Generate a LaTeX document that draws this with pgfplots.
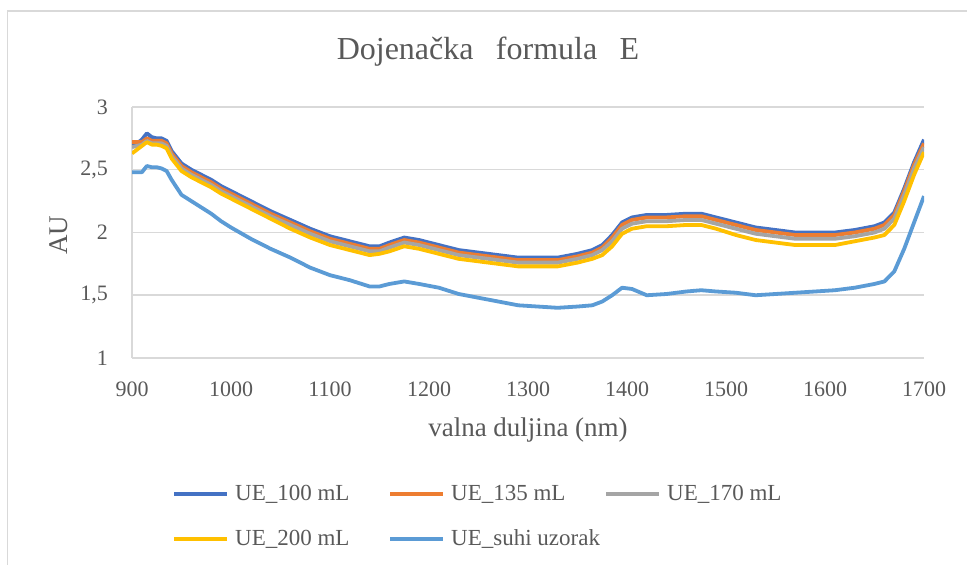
\documentclass[border=0pt]{standalone}
\usepackage{fontspec}
\setmainfont{Liberation Serif}
\usepackage{pgfplots}
\usepackage{pgfplotstable}
\pgfplotsset{compat=1.18}
\definecolor{cA}{HTML}{4472C4}
\definecolor{cB}{HTML}{ED7D31}
\definecolor{cC}{HTML}{A5A5A5}
\definecolor{cD}{HTML}{FFC000}
\definecolor{cE}{HTML}{5B9BD5}
\definecolor{txt}{HTML}{595959}
\definecolor{gridc}{HTML}{D9D9D9}
\pgfplotstableread{
x    a    b    c    d    e
900  2.70 2.72 2.68 2.63 2.48
905  2.71 2.72 2.69 2.66 2.48
910  2.74 2.72 2.70 2.69 2.48
915  2.79 2.75 2.73 2.72 2.53
920  2.76 2.73 2.71 2.70 2.52
925  2.75 2.73 2.71 2.70 2.52
930  2.75 2.73 2.71 2.69 2.51
935  2.73 2.71 2.69 2.67 2.49
940  2.65 2.63 2.61 2.59 2.42
945  2.60 2.58 2.56 2.54 2.36
950  2.55 2.53 2.51 2.49 2.30
960  2.50 2.48 2.46 2.44 2.25
970  2.46 2.44 2.42 2.40 2.20
980  2.42 2.40 2.38 2.36 2.15
990  2.37 2.35 2.33 2.31 2.09
1000 2.33 2.31 2.29 2.27 2.04
1020 2.25 2.23 2.21 2.19 1.95
1040 2.17 2.15 2.13 2.11 1.87
1060 2.10 2.08 2.06 2.03 1.80
1080 2.03 2.01 1.99 1.96 1.72
1100 1.97 1.95 1.93 1.90 1.66
1120 1.93 1.91 1.89 1.86 1.62
1140 1.89 1.87 1.85 1.82 1.57
1150 1.89 1.87 1.85 1.83 1.57
1160 1.92 1.90 1.88 1.85 1.59
1175 1.96 1.94 1.92 1.89 1.61
1190 1.94 1.92 1.90 1.87 1.59
1210 1.90 1.88 1.86 1.83 1.56
1230 1.86 1.84 1.82 1.79 1.51
1250 1.84 1.82 1.80 1.77 1.48
1270 1.82 1.80 1.78 1.75 1.45
1290 1.80 1.78 1.76 1.73 1.42
1310 1.80 1.78 1.76 1.73 1.41
1330 1.80 1.78 1.76 1.73 1.40
1350 1.83 1.81 1.79 1.76 1.41
1365 1.86 1.84 1.82 1.79 1.42
1375 1.90 1.88 1.86 1.82 1.45
1385 1.98 1.96 1.93 1.89 1.50
1395 2.08 2.06 2.03 1.99 1.56
1405 2.12 2.10 2.07 2.03 1.55
1420 2.14 2.12 2.09 2.05 1.50
1440 2.14 2.12 2.09 2.05 1.51
1460 2.15 2.13 2.10 2.06 1.53
1475 2.15 2.13 2.10 2.06 1.54
1490 2.12 2.10 2.07 2.03 1.53
1510 2.08 2.06 2.03 1.98 1.52
1530 2.04 2.02 1.99 1.94 1.50
1550 2.02 2.00 1.97 1.92 1.51
1570 2.00 1.98 1.95 1.90 1.52
1590 2.00 1.98 1.95 1.90 1.53
1610 2.00 1.98 1.95 1.90 1.54
1630 2.02 2.00 1.97 1.93 1.56
1650 2.05 2.03 2.00 1.96 1.59
1660 2.08 2.06 2.03 1.98 1.61
1670 2.16 2.14 2.11 2.06 1.69
1680 2.35 2.33 2.30 2.25 1.87
1690 2.56 2.54 2.51 2.46 2.08
1700 2.74 2.71 2.68 2.64 2.29
}\datatable
\begin{document}
\begin{tikzpicture}[x=1pt,y=1pt]
\path[use as bounding box] (0,0) rectangle (967,565);
\draw[gridc, line width=1.5pt] (7.5,0) -- (7.5,554) -- (967,554);
\begin{axis}[
  at={(132pt,207pt)}, anchor=south west,
  scale only axis, width=792pt, height=251pt,
  xmin=900, xmax=1700, ymin=1, ymax=3,
  xtick={900,1000,...,1700}, ytick={1,1.5,2,2.5,3},
  axis x line=bottom, axis y line=left,
  axis line style={draw=gridc, line width=1.5pt, -},
  major tick length=0pt,
  xmajorgrids=false, ymajorgrids=true,
  major grid style={draw=gridc, line width=1.5pt},
  /pgf/number format/assume math mode=true,
  /pgf/number format/use comma,
  /pgf/number format/1000 sep={},
  ticklabel style={font=\fontsize{22}{26}\selectfont, text=txt, inner sep=0pt},
  yticklabel style={anchor=east, xshift=-24pt},
  xticklabel style={anchor=north, yshift=-24pt},
  title={Dojenačka\hspace{0.7em}formula\hspace{0.7em}E},
  title style={font=\fontsize{32}{38}\selectfont, text=txt, at={(axis description cs:0.4495,1.167)}, anchor=base, inner sep=0pt},
  xlabel={valna duljina (nm)},
  xlabel style={font=\fontsize{27}{32}\selectfont, text=txt, at={(axis description cs:0.5,-0.311)}, anchor=base, inner sep=0pt},
  ylabel={AU},
  ylabel style={font=\fontsize{27}{32}\selectfont, text=txt, at={(axis description cs:-0.082,0.49)}, anchor=base, inner sep=0pt},
  legend columns=3,
  legend style={draw=none, fill=none, at={(axis description cs:0.0505,-0.498)}, anchor=north west,
    font=\fontsize{23}{27}\selectfont, text=txt, column sep=4pt, row sep=24pt,
    inner sep=0pt},
  legend cell align=left,
  legend image code/.code={\draw[#1, line width=4pt] (0pt,0pt) -- (53pt,0pt);},
  every axis plot/.append style={line width=3.8pt, line join=round},
]
\addplot[cA] table[x=x,y=a] {\datatable};
\addlegendentry{\makebox[147pt][l]{UE\_100 mL}}
\addplot[cB] table[x=x,y=b] {\datatable};
\addlegendentry{\makebox[147pt][l]{UE\_135 mL}}
\addplot[cC] table[x=x,y=c] {\datatable};
\addlegendentry{\makebox[147pt][l]{UE\_170 mL}}
\addplot[cD] table[x=x,y=d] {\datatable};
\addlegendentry{\makebox[147pt][l]{UE\_200 mL}}
\addplot[cE] table[x=x,y=e] {\datatable};
\addlegendentry{\makebox[147pt][l]{UE\_suhi uzorak}}
\end{axis}
\end{tikzpicture}
\end{document}
